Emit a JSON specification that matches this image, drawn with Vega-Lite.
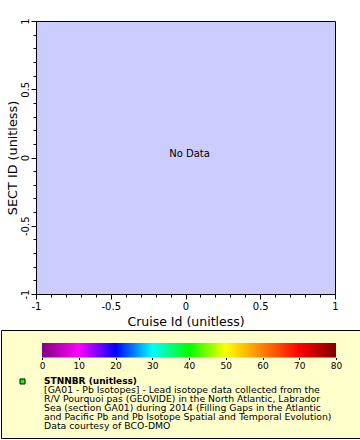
{
  "$schema": "https://vega.github.io/schema/vega-lite/v6.json",
  "background": "white",
  "padding": {"left": 0, "top": 17, "right": 0, "bottom": 0},
  "config": {
    "font": "DejaVu Sans",
    "axis": {"labelColor": "black", "titleColor": "black", "tickColor": "black", "grid": false, "labelFont": "DejaVu Sans", "titleFont": "DejaVu Sans", "titleFontWeight": "normal"}
  },
  "datasets": {
    "nodata": [{"x": 0.027, "y": 0.022, "label": "No Data"}],
    "bar": [{"lo": 0, "hi": 80, "top": 1.45, "bottom": 3.05}],
    "marker": [{"x": -5.3, "row": 5.72, "name": "STNNBR"}],
    "head": [{"x": 0.55, "row": 5.72, "text": "STNNBR (unitless)"}],
    "lines": [
      {"x": 0.55, "row": 6.72, "text": "[GA01 - Pb Isotopes] - Lead isotope data collected from the"},
      {"x": 0.55, "row": 7.72, "text": "R/V Pourquoi pas (GEOVIDE) in the North Atlantic, Labrador"},
      {"x": 0.55, "row": 8.72, "text": "Sea (section GA01) during 2014 (Filling Gaps in the Atlantic"},
      {"x": 0.55, "row": 9.72, "text": "and Pacific Pb and Pb Isotope Spatial and Temporal Evolution)"},
      {"x": 0.55, "row": 10.72, "text": "Data courtesy of BCO-DMO"}
    ]
  },
  "vconcat": [
    {
      "hconcat": [
        {
          "width": 4,
          "height": 273,
          "view": {"fill": null, "stroke": null},
          "data": {"values": []},
          "mark": {"type": "point", "opacity": 0},
          "encoding": {}
        },
        {
          "width": 299,
          "height": 273,
          "view": {"fill": "#CCCCFF", "stroke": "black", "strokeWidth": 1},
          "data": {"name": "nodata"},
          "mark": {"type": "text", "fontSize": 10, "font": "DejaVu Sans", "color": "black", "align": "center", "baseline": "middle"},
          "encoding": {
            "x": {
              "field": "x", "type": "quantitative",
              "scale": {"domain": [-1, 1], "nice": false, "zero": false},
              "axis": {
                "values": [-1, -0.9, -0.8, -0.7, -0.6, -0.5, -0.4, -0.3, -0.2, -0.1, 0, 0.1, 0.2, 0.3, 0.4, 0.5, 0.6, 0.7, 0.8, 0.9, 1],
                "tickSize": {"condition": {"test": "abs(datum.value*2 - round(datum.value*2)) < 0.001", "value": 5}, "value": 3},
                "labelExpr": "abs(datum.value*2 - round(datum.value*2)) < 0.001 ? toString(round(datum.value*2)/2) : ''",
                "labelFontSize": 10, "labelPadding": 2, "labelFlush": false, "labelOverlap": false, "labelBound": false,
                "domain": false,
                "title": "Cruise Id (unitless)", "titleFontSize": 12.5, "titlePadding": 4
              }
            },
            "y": {
              "field": "y", "type": "quantitative",
              "scale": {"domain": [-1, 1], "nice": false, "zero": false},
              "axis": {
                "values": [-1, -0.9, -0.8, -0.7, -0.6, -0.5, -0.4, -0.3, -0.2, -0.1, 0, 0.1, 0.2, 0.3, 0.4, 0.5, 0.6, 0.7, 0.8, 0.9, 1],
                "tickSize": {"condition": {"test": "abs(datum.value*2 - round(datum.value*2)) < 0.001", "value": 5}, "value": 3},
                "labelExpr": "abs(datum.value*2 - round(datum.value*2)) < 0.001 ? toString(round(datum.value*2)/2) : ''",
                "labelFontSize": 10, "labelPadding": 1, "labelAngle": 270, "labelAlign": "center", "labelBaseline": "bottom",
                "labelFlush": false, "labelOverlap": false, "labelBound": false,
                "domain": false,
                "title": "SECT ID (unitless)", "titleFontSize": 12.8, "titlePadding": 1
              }
            },
            "text": {"field": "label"}
          }
        }
      ],
      "spacing": 0
    },
    {
      "width": 359,
      "height": 108,
      "view": {"fill": "#FFFFCC", "stroke": "black", "strokeWidth": 1},
      "layer": [
        {
          "data": {"name": "bar"},
          "mark": {"type": "rect", "fill": {"gradient": "linear", "x1": 0, "y1": 0, "x2": 1, "y2": 0, "stops": [
            {"offset": 0, "color": "#800080"},
            {"offset": 0.125, "color": "#FF00FF"},
            {"offset": 0.25, "color": "#0000FF"},
            {"offset": 0.375, "color": "#00FFFF"},
            {"offset": 0.5, "color": "#00FF00"},
            {"offset": 0.625, "color": "#FFFF00"},
            {"offset": 0.75, "color": "#FF8000"},
            {"offset": 0.875, "color": "#FF0000"},
            {"offset": 1, "color": "#800000"}
          ]}},
          "encoding": {
            "x": {"field": "lo", "type": "quantitative", "scale": {"domain": [0, 80], "range": [41, 335], "nice": false, "zero": false},
              "axis": {"values": [0, 10, 20, 30, 40, 50, 60, 70, 80], "tickSize": 2, "domain": false, "labelFontSize": 9, "labelPadding": 2, "labelFlush": false, "labelOverlap": false, "offset": -80.5, "title": null}},
            "x2": {"field": "hi"},
            "y": {"field": "top", "type": "quantitative", "scale": {"domain": [0, 12], "reverse": true, "nice": false, "zero": false}, "axis": null},
            "y2": {"field": "bottom"}
          }
        },
        {
          "data": {"name": "marker"},
          "mark": {"type": "square", "size": 25, "fill": "#00FF00", "stroke": "black", "strokeWidth": 1, "opacity": 1},
          "encoding": {
            "x": {"field": "x", "type": "quantitative"},
            "y": {"field": "row", "type": "quantitative"}
          }
        },
        {
          "data": {"name": "head"},
          "mark": {"type": "text", "fontSize": 9, "fontWeight": "bold", "align": "left", "baseline": "middle", "color": "black"},
          "encoding": {
            "x": {"field": "x", "type": "quantitative"},
            "y": {"field": "row", "type": "quantitative"},
            "text": {"field": "text"}
          }
        },
        {
          "data": {"name": "lines"},
          "mark": {"type": "text", "fontSize": 9.3, "align": "left", "baseline": "middle", "color": "black"},
          "encoding": {
            "x": {"field": "x", "type": "quantitative"},
            "y": {"field": "row", "type": "quantitative"},
            "text": {"field": "text"}
          }
        }
      ]
    }
  ],
  "spacing": 1
}
